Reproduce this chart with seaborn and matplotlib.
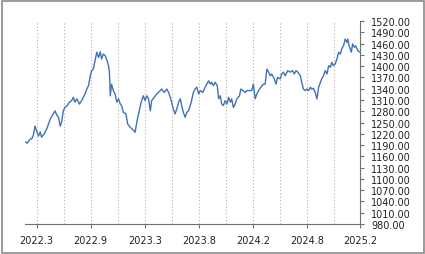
import matplotlib
matplotlib.use("Agg")
import matplotlib.pyplot as plt
import seaborn as sns
import pandas as pd
from matplotlib.patches import Rectangle

# trading-day index and index value
days = [0, 5, 12, 15, 19, 23, 25, 31, 35, 38, 44, 50, 58, 65, 69, 73, 77, 81, 84, 88,
        92, 97, 102, 107, 111, 115, 119, 125, 130, 138, 142, 146, 150, 153, 157, 161, 165, 169, 173, 176,
        180, 184, 189, 192, 194, 196, 199, 203, 207, 211, 215, 219, 222, 226, 232, 236, 242, 249, 253, 257,
        261, 267, 272, 276, 280, 284, 288, 291, 297, 303, 311, 314, 320, 326, 330, 334, 337, 341, 345, 349,
        353, 357, 360, 364, 368, 372, 376, 382, 387, 391, 395, 399, 403, 409, 414, 422, 426, 429, 433, 437,
        442, 445, 449, 452, 456, 460, 464, 468, 472, 475, 479, 483, 487, 493, 496, 501, 506, 510, 516, 521,
        525, 529, 533, 537, 542, 548, 552, 556, 560, 564, 567, 573, 577, 580, 587, 590, 594, 598, 604, 610,
        615, 619, 623, 627, 633, 636, 640, 644, 648, 652, 656, 659, 663, 667, 671, 675, 679, 682, 686, 690,
        694, 698, 702, 705, 709, 713, 717, 721, 725, 728, 732, 736, 740, 742, 745, 750, 753, 757, 760, 765, 770]
values = [1199, 1195, 1206, 1206, 1215, 1240, 1233, 1214, 1225, 1211, 1219, 1233, 1259, 1273, 1281, 1270, 1264, 1240, 1251, 1281,
          1290, 1295, 1304, 1308, 1317, 1304, 1313, 1299, 1308, 1326, 1339, 1348, 1374, 1388, 1392, 1414, 1437, 1423, 1438, 1419,
          1432, 1428, 1414, 1401, 1384, 1321, 1352, 1335, 1326, 1304, 1313, 1299, 1295, 1277, 1273, 1246, 1237, 1230, 1224, 1251,
          1273, 1304, 1321, 1308, 1321, 1313, 1281, 1308, 1317, 1326, 1335, 1339, 1330, 1339, 1330, 1317, 1304, 1286, 1273, 1286,
          1304, 1313, 1295, 1277, 1264, 1277, 1281, 1304, 1330, 1339, 1344, 1326, 1335, 1330, 1344, 1361, 1352, 1357, 1348, 1357,
          1348, 1313, 1321, 1299, 1295, 1308, 1299, 1317, 1304, 1313, 1290, 1299, 1313, 1321, 1339, 1335, 1330, 1335, 1335, 1335,
          1352, 1313, 1326, 1335, 1344, 1352, 1352, 1392, 1384, 1374, 1379, 1366, 1352, 1370, 1366, 1379, 1384, 1374, 1388, 1384,
          1388, 1379, 1388, 1384, 1374, 1357, 1339, 1335, 1339, 1335, 1344, 1339, 1341, 1330, 1313, 1344, 1357, 1366, 1374, 1388,
          1379, 1401, 1397, 1410, 1401, 1406, 1419, 1437, 1432, 1446, 1454, 1472, 1463, 1472, 1454, 1437, 1459, 1450, 1454, 1441, 1437]

tick_days = [27, 151, 276, 400, 524, 649, 770]
tick_labels = ["2022.3", "2022.9", "2023.3", "2023.8", "2024.2", "2024.8", "2025.2"]
grid_days = [27, 89, 151, 213, 276, 338, 400, 462, 524, 587, 649, 711]
y_ticks = [980, 1010, 1040, 1070, 1100, 1130, 1160, 1190, 1220, 1250, 1280, 1310, 1340,
           1370, 1400, 1430, 1460, 1490, 1520]

df = pd.DataFrame({"day": days, "value": values})

sns.set_style("white")
plt.rcParams["font.family"] = ["DejaVu Sans"]

W, H = 425, 255
fig = plt.figure(figsize=(W / 100, H / 100), dpi=100)
fig.patch.set_facecolor("white")
ax = fig.add_axes([25 / W, (H - 225) / H, (360 - 25) / W, (225 - 22) / H])

for g in grid_days:
    ax.axvline(g, color="#b0b0b0", linestyle=(0, (1, 2)), linewidth=0.8, zorder=0)

sns.lineplot(data=df, x="day", y="value", ax=ax, color="#4272b2", linewidth=1.0)

ax.set_xlim(0, 770)
ax.set_ylim(980, 1520)
ax.set_xticks(tick_days)
ax.set_xticklabels(tick_labels)
ax.set_yticks(y_ticks)
ax.set_yticklabels([f"{v:.2f}" for v in y_ticks])
ax.yaxis.tick_right()
ax.set_xlabel("")
ax.set_ylabel("")

for s in ["top", "left"]:
    ax.spines[s].set_visible(False)
for s in ["bottom", "right"]:
    ax.spines[s].set_color("#707070")
    ax.spines[s].set_linewidth(0.8)

ax.tick_params(axis="x", direction="out", length=3, width=0.8, color="#707070",
               labelsize=7, pad=5, labelcolor="#222222", bottom=True)
ax.tick_params(axis="y", direction="out", length=3, width=0.8, color="#707070",
               labelsize=7, pad=5, labelcolor="#222222", right=True, left=False)

fig.patches.append(Rectangle((1.5 / W, 1.5 / H), (W - 3) / W, (H - 3) / H,
                             transform=fig.transFigure, fill=False,
                             edgecolor="#8a8a8a", linewidth=1.2))

fig.savefig("out.png", dpi=100)
